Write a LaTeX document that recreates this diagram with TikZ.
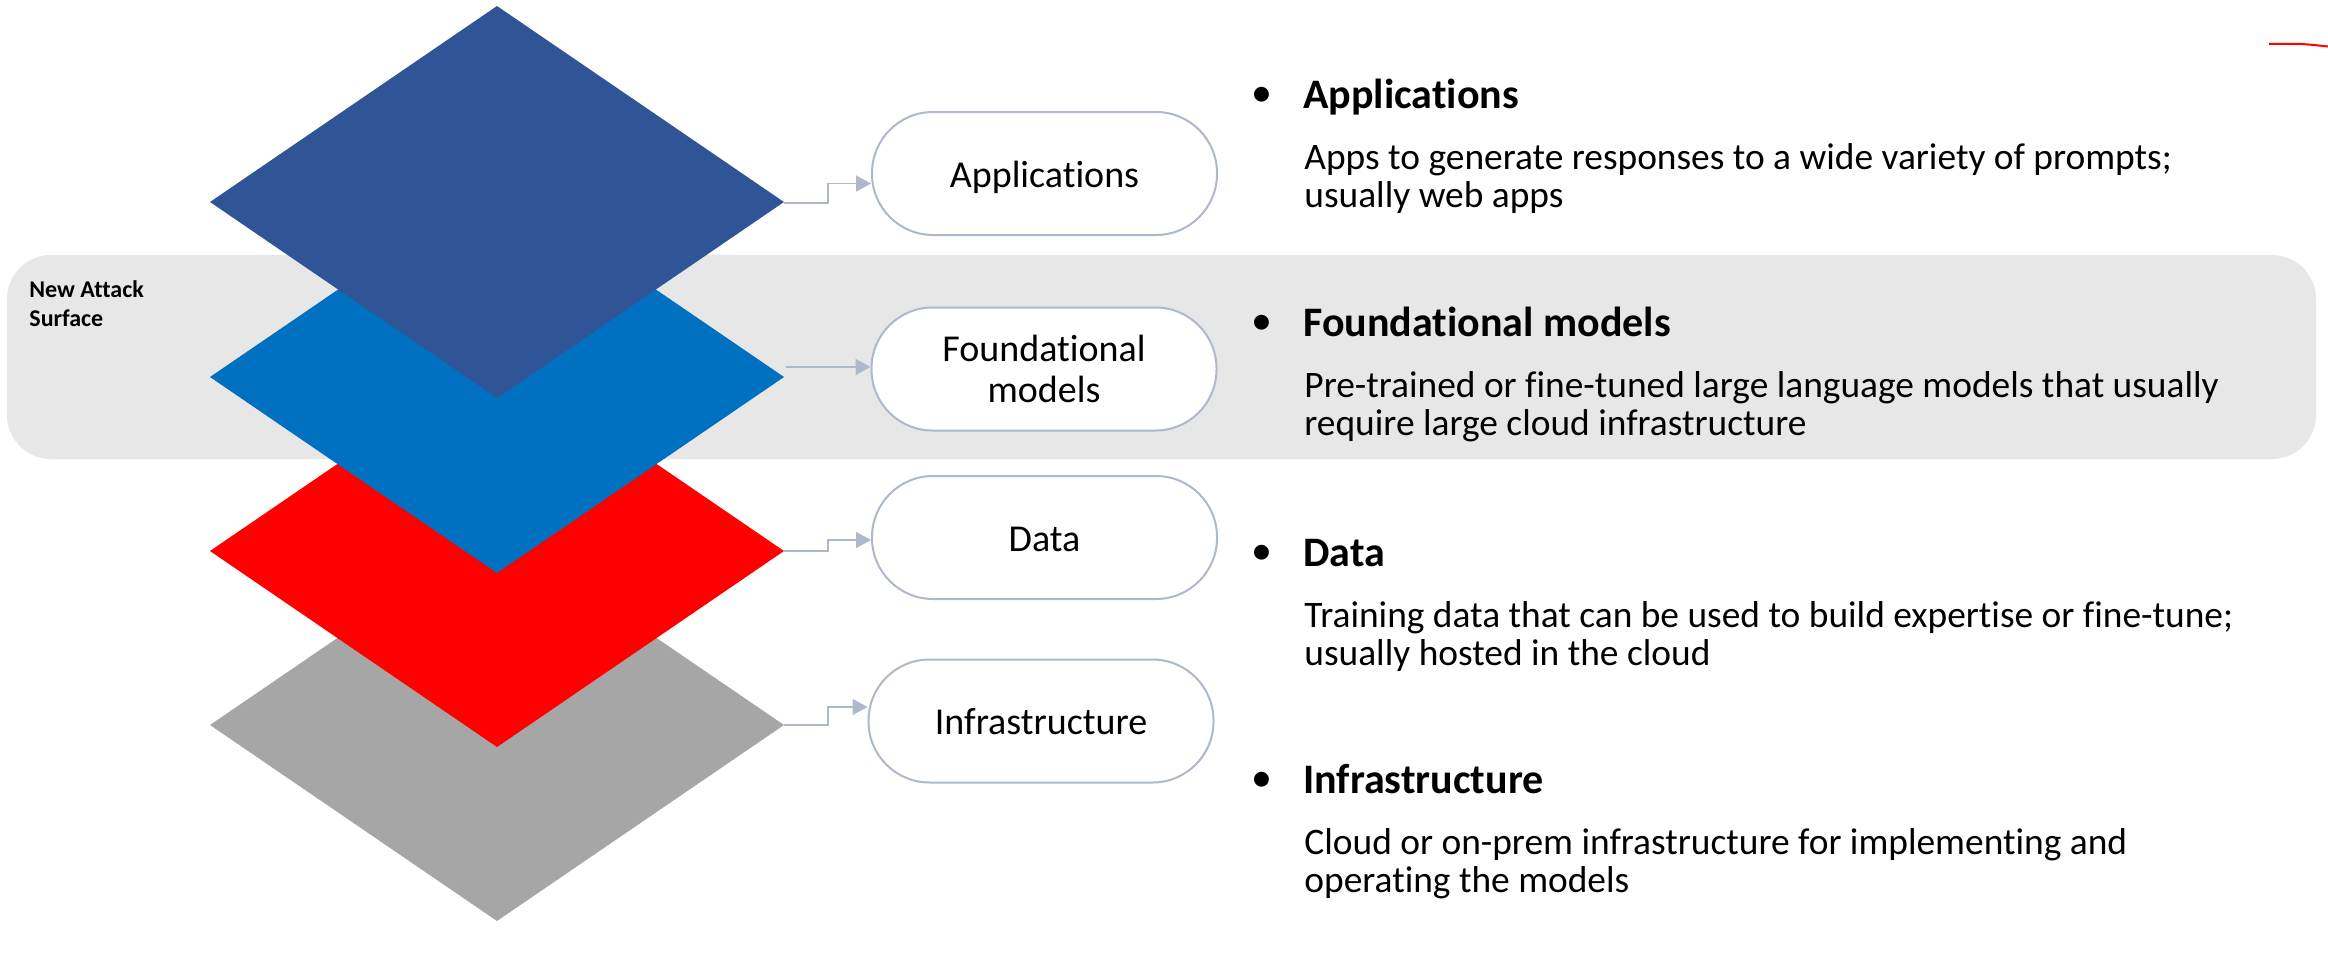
\documentclass[tikz,border=0pt]{standalone}
\usepackage{fontspec}
\setmainfont{Carlito}[Ligatures={NoCommon}]
\usetikzlibrary{arrows.meta}
\definecolor{bandgray}{HTML}{E7E7E7}
\definecolor{layerA}{HTML}{2F5597}
\definecolor{layerF}{HTML}{0070C0}
\definecolor{layerD}{HTML}{FF0000}
\definecolor{layerI}{HTML}{A6A6A6}
\definecolor{pillline}{HTML}{ADB9CA}
\tikzset{
  pill/.style={draw=pillline, line width=1pt, fill=white, rounded corners=30.5pt,
    minimum width=172.5pt, minimum height=61.5pt, align=center,
    font=\fontsize{19pt}{20.5pt}\selectfont, inner sep=0pt},
  pillone/.style={pill, text height=15pt, text depth=1.5pt},
  conn/.style={draw=pillline, line width=0.8pt, -{Triangle[length=7.5pt,width=8pt]}},
  ttl/.style={anchor=base west, inner sep=0pt, font=\fontsize{21pt}{25pt}\selectfont\bfseries},
  bul/.style={anchor=base, inner sep=0pt, font=\fontsize{21pt}{25pt}\selectfont},
  desc/.style={anchor=base west, inner sep=0pt, align=left, font=\fontsize{18.7pt}{19pt}\selectfont},
  tag/.style={anchor=base west, inner sep=0pt, align=left, font=\fontsize{12pt}{14.5pt}\selectfont\bfseries}
}
\begin{document}
\begin{tikzpicture}[x=0.5pt, y=-0.5pt]
\useasboundingbox (0,0) rectangle (2328,953);
% band
\fill[bandgray, rounded corners=22pt] (7,255) rectangle (2316,459);
\node[tag] (nas) at (29,326) {New Attack\\Surface};
% layers (bottom first)
\fill[layerI] (210,725) -- (497,529) -- (784,725) -- (497,921) -- cycle;
\fill[layerD] (210,551) -- (497,355) -- (784,551) -- (497,747) -- cycle;
\fill[layerF] (210,377) -- (497,181) -- (784,377) -- (497,573) -- cycle;
\fill[layerA] (210,202) -- (497,6) -- (784,202) -- (497,398) -- cycle;
\coordinate (tA) at (784,203);
\coordinate (tF) at (786,367);
\coordinate (tD) at (784,551);
\coordinate (tI) at (784,725);
% pills
\node[pillone] (pA) at (1044.5,173.5) {Applications};
\node[pill] (pF) at (1044,369) {Foundational\\models};
\node[pillone] (pD) at (1044.5,537.5) {Data};
\node[pillone] (pI) at (1041,721) {Infrastructure};
% connectors
\draw[conn] (tA) -- ++(44,0) |- ([yshift=-5pt]pA.west);
\draw[conn] (tF) -- (tF -| pF.west);
\draw[conn] (tD) -- ++(44,0) |- ([yshift=-1.25pt]pD.west);
\draw[conn] (tI) -- ++(44,0) |- ([yshift=7pt]pI.west);
% right-hand text
\node[bul] (bA) at (1262,106) {•};
\node[ttl] (hA) at (1303,108) {Applications};
\node[desc] (dA) at (1304,207) {Apps to generate responses to a wide variety of prompts;\\usually web apps};
\node[bul] (bF) at (1262,334) {•};
\node[ttl] (hF) at (1303,336) {Foundational models};
\node[desc] (dF) at (1304,435) {Pre-trained or fine-tuned large language models that usually\\require large cloud infrastructure};
\node[bul] (bD) at (1262,564) {•};
\node[ttl] (hD) at (1303,566) {Data};
\node[desc] (dD) at (1304,665) {Training data that can be used to build expertise or fine-tune;\\usually hosted in the cloud};
\node[bul] (bI) at (1262,791) {•};
\node[ttl] (hI) at (1303,793) {Infrastructure};
\node[desc] (dI) at (1304,892) {Cloud or on-prem infrastructure for implementing and\\operating the models};
% stray red stroke
\coordinate (rs) at (2269,44);
\coordinate (re) at (2328,46.5);
\draw[red, line width=1pt] (rs) .. controls (2300,43.5) .. (re);
\end{tikzpicture}
\end{document}
